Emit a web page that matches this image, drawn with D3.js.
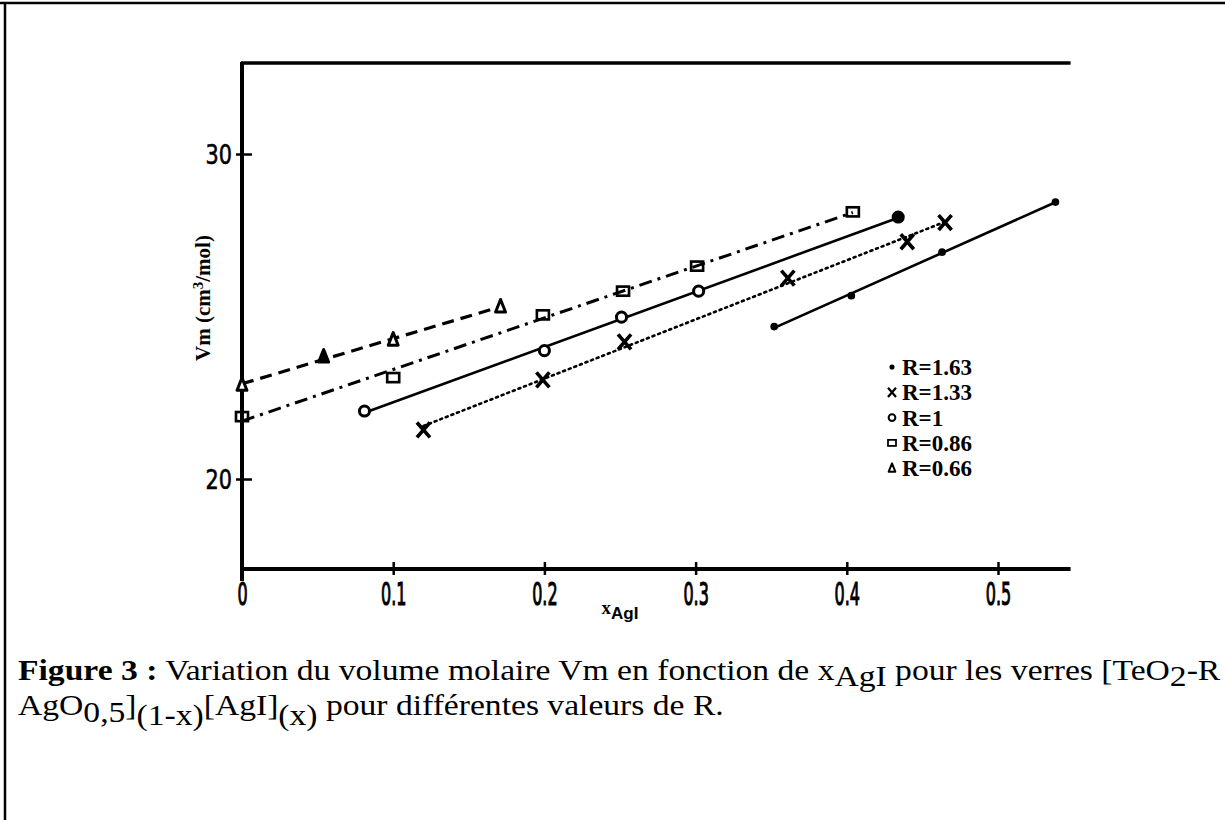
<!DOCTYPE html>
<html>
<head>
<meta charset="utf-8">
<script src="https://cdn.jsdelivr.net/npm/d3@7"></script>
<style>
  body { margin: 0; background: #fff; }
  svg { display: block; }
</style>
</head>
<body>
<div id="chart"></div>
<script>
// ---- data ---------------------------------------------------------
var seriesNames = ["R=1.63", "R=1.33", "R=1", "R=0.86", "R=0.66"];

var x163 = [0.352, 0.403, 0.463, 0.538];
var v163 = [24.69, 25.64, 26.98, 28.52];

var x133 = [0.120, 0.199, 0.253, 0.361, 0.440, 0.465];
var v133 = [21.51, 23.05, 24.22, 26.18, 27.30, 27.89];

var x100 = [0.081, 0.200, 0.251, 0.302, 0.434];
var v100 = [22.09, 23.95, 24.98, 25.78, 28.06];

var x086 = [0.000, 0.100, 0.199, 0.252, 0.301, 0.404];
var v086 = [21.92, 23.12, 25.05, 25.78, 26.55, 28.22];

var x066 = [0.000, 0.054, 0.100, 0.171];
var v066 = [22.89, 23.76, 24.28, 25.30];

var xTicks = [0, 0.1, 0.2, 0.3, 0.4, 0.5];
var yTicks = [20, 30];

// ---- page ----------------------------------------------------------
var width = 1225, height = 820;

var svg = d3.select("#chart").append("svg")
    .attr("width", width)
    .attr("height", height);

// scanned page frame (left + top rule)
svg.append("line").attr("x1", 5).attr("y1", 3).attr("x2", 5).attr("y2", height)
   .attr("stroke", "#000").attr("stroke-width", 2.5);
svg.append("line").attr("x1", 0).attr("y1", 3).attr("x2", width).attr("y2", 3)
   .attr("stroke", "#000").attr("stroke-width", 2.5);

// scales
var x = d3.scaleLinear().domain([0, 0.5]).range([242, 998]);
var y = d3.scaleLinear().domain([20, 30]).range([479, 154]);

var xEnd = 0.548, yBottom = 17.23, yTop = 32.8;

// axes frame: left axis, bottom axis, top rule
svg.append("line")
   .attr("x1", x(0)).attr("x2", x(0))
   .attr("y1", y(yTop) - 1).attr("y2", y(yBottom) + 12)
   .attr("stroke", "#000").attr("stroke-width", 4);
svg.append("line")
   .attr("x1", x(0) - 1).attr("x2", x(xEnd))
   .attr("y1", y(yBottom)).attr("y2", y(yBottom))
   .attr("stroke", "#000").attr("stroke-width", 4);
svg.append("line")
   .attr("x1", x(0) - 1).attr("x2", x(xEnd))
   .attr("y1", y(yTop)).attr("y2", y(yTop))
   .attr("stroke", "#000").attr("stroke-width", 3.5);

// x axis ticks + labels
var xAxis = d3.axisBottom(x)
    .tickValues(xTicks)
    .tickFormat(function(d) { return d === 0 ? "0" : d3.format(".1f")(d); })
    .tickSize(6);

var gx = svg.append("g")
    .attr("transform", "translate(0," + y(yBottom) + ")")
    .call(xAxis);
gx.select(".domain").remove();
gx.selectAll(".tick line")
    .attr("y1", -7).attr("y2", 6)
    .attr("stroke", "#000").attr("stroke-width", 2.5);
gx.selectAll(".tick text")
    .attr("y", 0).attr("dy", 0)
    .attr("transform", "translate(0,36) scale(0.5,1)")
    .style("font-family", "'DejaVu Sans'")
    .style("font-size", "32px")
    .attr("fill", "#000")
    .attr("stroke", "#000").attr("stroke-width", 1.2);

// y axis ticks + labels
var yAxis = d3.axisLeft(y)
    .tickValues(yTicks)
    .tickSize(6);

var gy = svg.append("g")
    .attr("transform", "translate(" + x(0) + ",0)")
    .call(yAxis);
gy.select(".domain").remove();
gy.selectAll(".tick line")
    .attr("x1", -6).attr("x2", 10)
    .attr("stroke", "#000").attr("stroke-width", 2.5);
gy.selectAll(".tick text")
    .attr("x", 0).attr("dy", 0)
    .attr("transform", "translate(-10,9) scale(0.8,1)")
    .style("font-family", "'DejaVu Sans'")
    .style("font-size", "26px")
    .attr("fill", "#000")
    .attr("stroke", "#000").attr("stroke-width", 0.6);

// axis titles
var yt = svg.append("text")
    .attr("transform", "translate(210,298) rotate(-90)")
    .attr("text-anchor", "middle")
    .style("font-family", "'Liberation Serif', 'Times New Roman', serif")
    .style("font-weight", "bold")
    .style("font-size", "21px");
yt.append("tspan").text("Vm (cm");
yt.append("tspan").attr("dy", -7).style("font-size", "15px").text("3");
yt.append("tspan").attr("dy", 7).text("/mol)");

var xt = svg.append("text")
    .attr("x", 620).attr("y", 614)
    .attr("text-anchor", "middle")
    .style("font-family", "'Liberation Serif', 'Times New Roman', serif")
    .style("font-weight", "bold")
    .style("font-size", "19px");
xt.append("tspan").text("x");
xt.append("tspan").attr("dy", 5).style("font-family", "'Liberation Sans', Arial, sans-serif")
  .style("font-size", "17px").text("AgI");

// ---- series --------------------------------------------------------
function pairs(xs, vs) {
  return xs.map(function(d, i) { return { x: d, v: vs[i] }; });
}

var series = [
  { name: seriesNames[0], pts: pairs(x163, v163), mark: "dot",      dash: null,       w: 2.6 },
  { name: seriesNames[1], pts: pairs(x133, v133), mark: "cross",    dash: "2,4",      w: 2.6 },
  { name: seriesNames[2], pts: pairs(x100, v100), mark: "circle",   dash: null,       w: 2.6 },
  { name: seriesNames[3], pts: pairs(x086, v086), mark: "square",   dash: "13,6,3,6", w: 3 },
  { name: seriesNames[4], pts: pairs(x066, v066), mark: "triangle", dash: "12,7",     w: 3.2 }
];

// straight least-squares line through each set
function fit(pts) {
  var mx = d3.mean(pts, function(p) { return p.x; });
  var mv = d3.mean(pts, function(p) { return p.v; });
  var sxy = d3.sum(pts, function(p) { return (p.x - mx) * (p.v - mv); });
  var sxx = d3.sum(pts, function(p) { return (p.x - mx) * (p.x - mx); });
  var b = sxy / sxx, a = mv - b * mx;
  var x0 = d3.min(pts, function(p) { return p.x; });
  var x1 = d3.max(pts, function(p) { return p.x; });
  return [{ x: x0, v: a + b * x0 }, { x: x1, v: a + b * x1 }];
}

var line = d3.line()
    .x(function(d) { return x(d.x); })
    .y(function(d) { return y(d.v); });

series.forEach(function(s) {
  svg.append("path")
     .datum(fit(s.pts))
     .attr("d", line)
     .attr("fill", "none")
     .attr("stroke", "#000")
     .attr("stroke-width", s.w)
     .attr("stroke-linecap", s.mark === "cross" ? "round" : "butt")
     .attr("stroke-dasharray", s.dash);
});

// marker drawing
function drawMark(g, type, cx, cy, size, filled) {
  if (type === "dot") {
    g.append("circle").attr("cx", cx).attr("cy", cy).attr("r", size * 0.32)
     .attr("fill", "#000");
  } else if (type === "cross") {
    var h = size * 0.5;
    g.append("path")
     .attr("d", "M" + (cx - h) + "," + (cy - h * 1.15) + "L" + (cx + h) + "," + (cy + h * 1.15) +
                "M" + (cx + h) + "," + (cy - h * 1.15) + "L" + (cx - h) + "," + (cy + h * 1.15))
     .attr("stroke", "#000").attr("stroke-width", size * 0.28).attr("fill", "none");
  } else if (type === "circle") {
    g.append("circle").attr("cx", cx).attr("cy", cy).attr("r", size * 0.42)
     .attr("fill", filled ? "#000" : "#fff").attr("stroke", "#000").attr("stroke-width", size * 0.25);
  } else if (type === "square") {
    g.append("rect").attr("x", cx - size * 0.5).attr("y", cy - size * 0.38)
     .attr("width", size).attr("height", size * 0.76)
     .attr("fill", "none").attr("stroke", "#000").attr("stroke-width", size * 0.22);
  } else if (type === "triangle") {
    var s = size * 0.55;
    g.append("path")
     .attr("d", "M" + cx + "," + (cy - s * 1.1) + "L" + (cx + s * 0.75) + "," + (cy + s * 0.8) +
                "L" + (cx - s * 0.75) + "," + (cy + s * 0.8) + "Z")
     .attr("fill", filled ? "#000" : "#fff").attr("stroke", "#000")
     .attr("stroke-width", size * 0.25).attr("stroke-linejoin", "round");
  }
}

var marks = svg.append("g");
series.forEach(function(s) {
  s.pts.forEach(function(p, i) {
    var filled = (s.mark === "triangle" && i === 1) || (s.mark === "circle" && i === s.pts.length - 1);
    var size = s.mark === "cross" ? 13 : 12;
    drawMark(marks, s.mark, x(p.x), y(p.v), size, filled);
  });
});

// ---- legend --------------------------------------------------------
var legend = svg.append("g").attr("transform", "translate(892,367)");
series.forEach(function(s, i) {
  var gy0 = i * 25.3;
  drawMark(legend, s.mark, 0, gy0, 8, false);
  legend.append("text")
     .attr("x", 10).attr("y", gy0 + 8)
     .style("font-family", "'Liberation Serif', 'Times New Roman', serif")
     .style("font-weight", "bold")
     .style("font-size", "23px")
     .text(s.name);
});

// ---- caption -------------------------------------------------------
var capFont = "'Liberation Serif', 'Times New Roman', serif";
var cap1 = svg.append("text").attr("x", 18).attr("y", 680)
    .style("font-family", capFont).style("font-size", "29px");
cap1.append("tspan").style("font-weight", "bold").text("Figure 3 :");
cap1.append("tspan").text(" Variation du volume molaire Vm en fonction de x");
cap1.append("tspan").attr("dy", 6).text("AgI");
cap1.append("tspan").attr("dy", -6).text(" pour les verres [TeO");
cap1.append("tspan").attr("dy", 6).text("2");
cap1.append("tspan").attr("dy", -6).text("-R");

var cap2 = svg.append("text").attr("x", 18).attr("y", 715)
    .style("font-family", capFont).style("font-size", "29px");
cap2.append("tspan").text("AgO");
cap2.append("tspan").attr("dy", 7).text("0,5");
cap2.append("tspan").attr("dy", -7).text("]");
cap2.append("tspan").attr("dy", 10).text("(1-x)");
cap2.append("tspan").attr("dy", -10).text("[AgI]");
cap2.append("tspan").attr("dy", 10).text("(x)");
cap2.append("tspan").attr("dy", -10).text(" pour différentes valeurs de R.");

// the scanned caption runs the first line across the whole page width
var sx = (1221 - 18) / cap1.node().getComputedTextLength();
[cap1, cap2].forEach(function(c) {
  c.attr("transform", "translate(18,0) scale(" + sx + ",1) translate(-18,0)");
});
</script>
</body>
</html>
